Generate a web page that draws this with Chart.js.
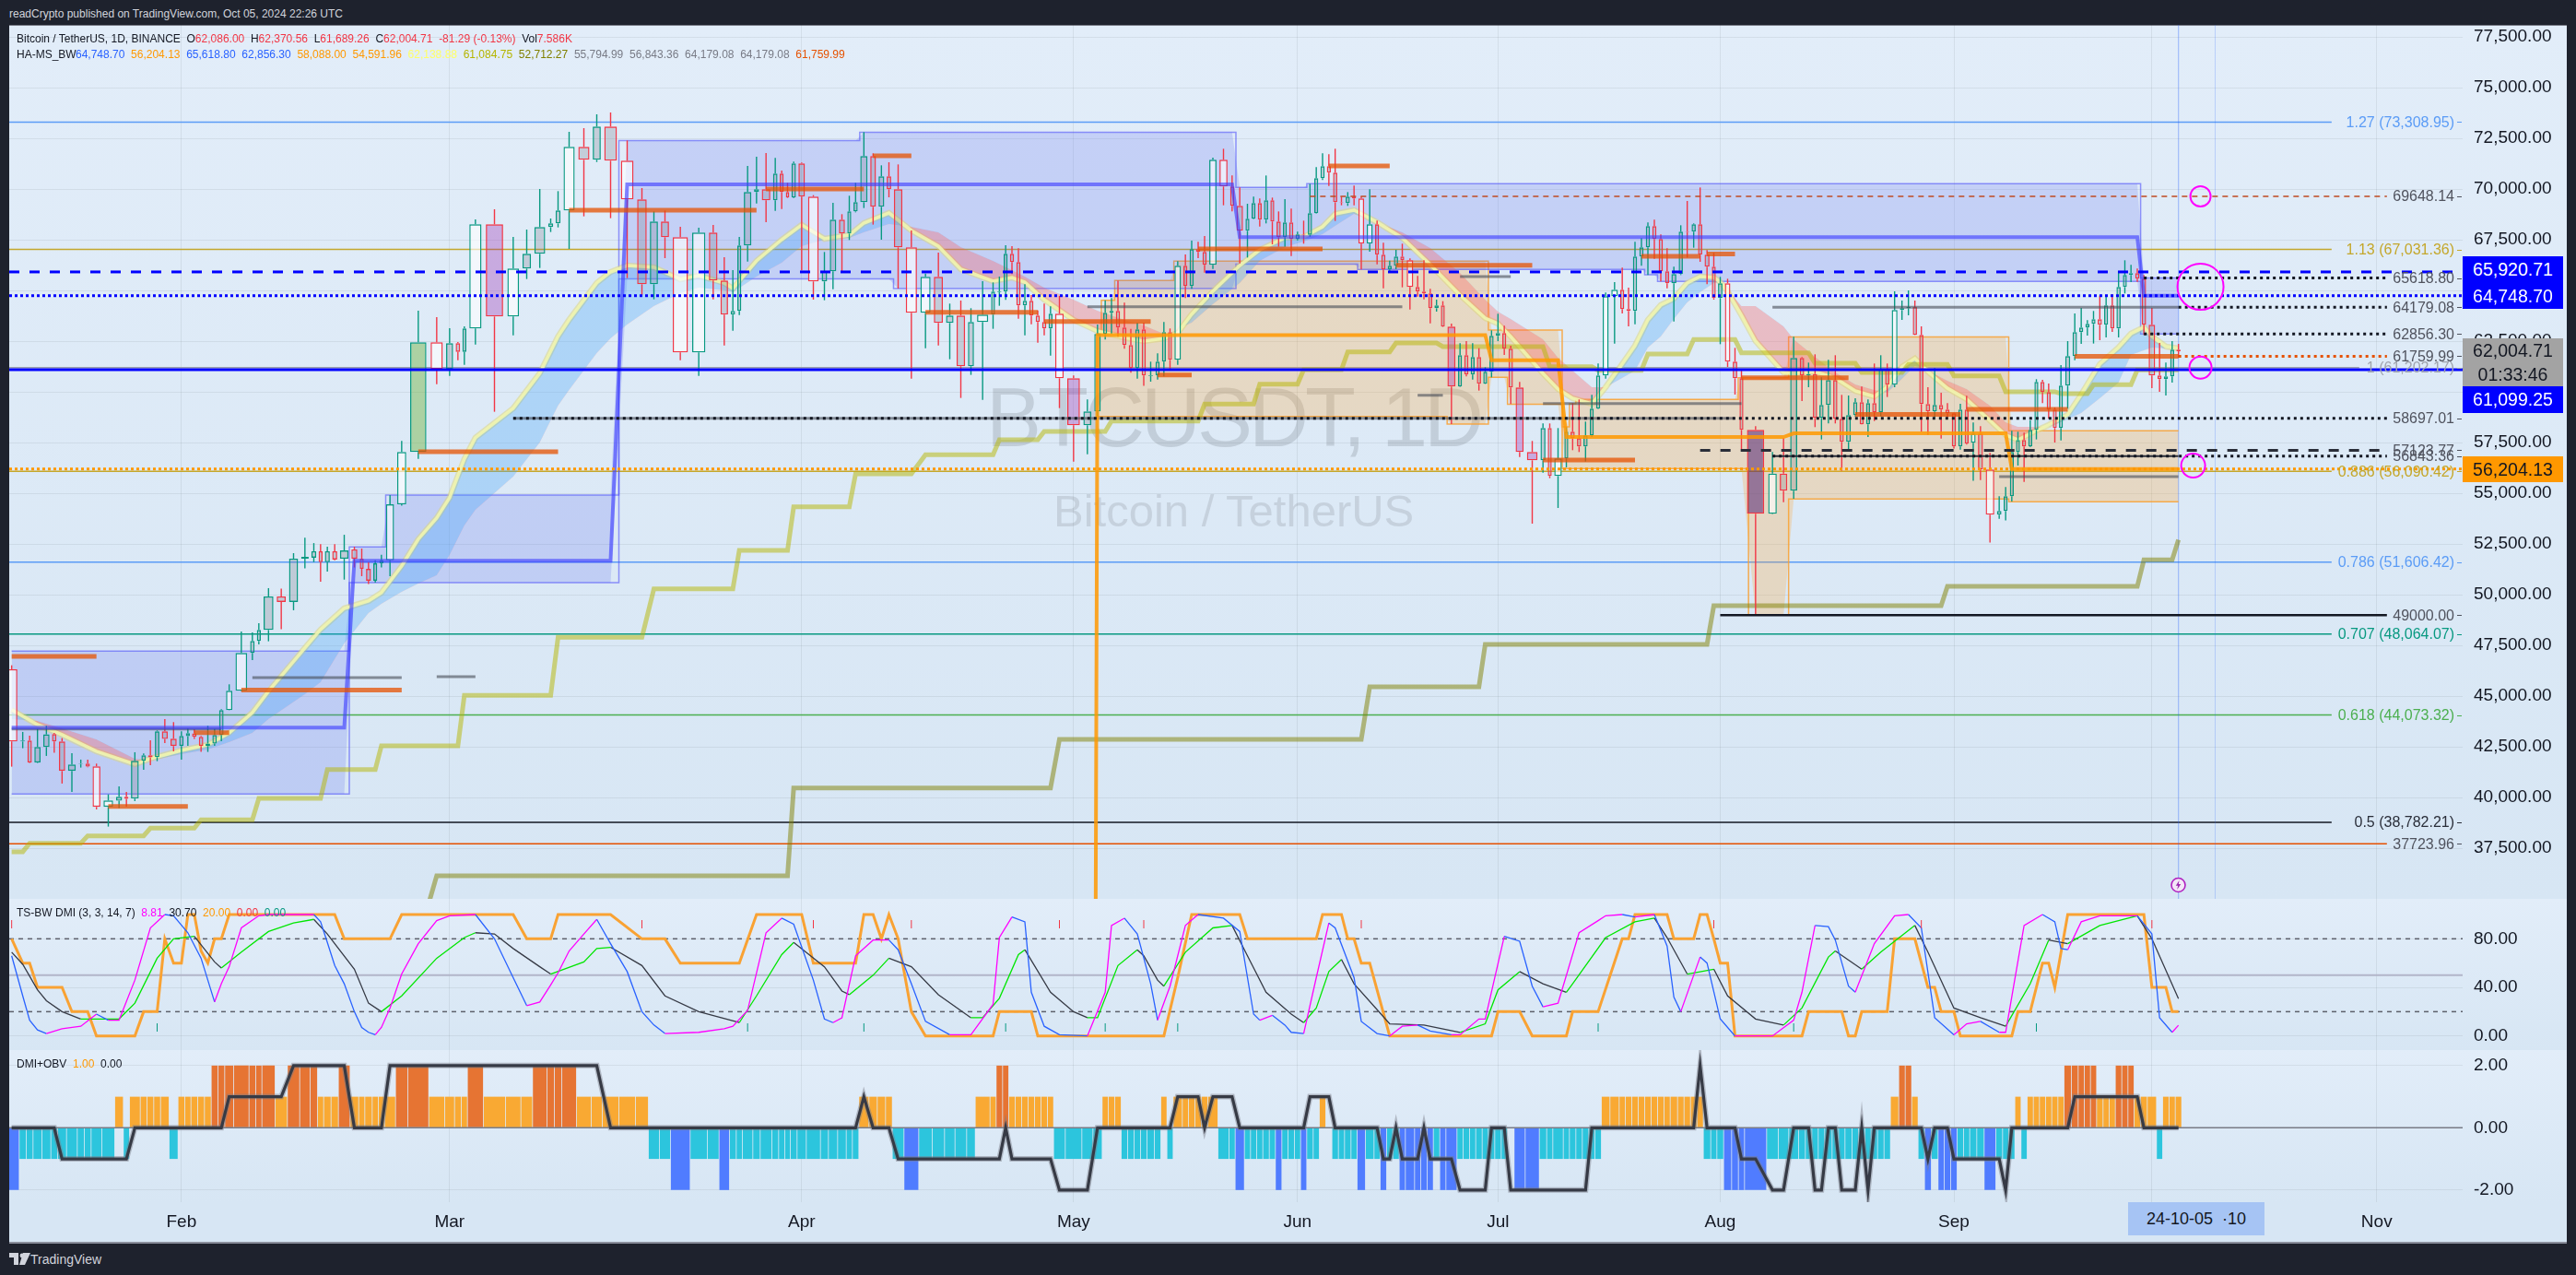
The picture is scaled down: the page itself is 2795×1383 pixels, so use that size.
<!DOCTYPE html>
<html>
<head>
<meta charset="utf-8">
<title>BTCUSDT 1D</title>
<script src="https://cdn.jsdelivr.net/npm/chart.js@4"></script>
<style>
  html, body { margin: 0; padding: 0; background: #1e222d; width: 2795px; height: 1383px; overflow: hidden; font-family: "Liberation Sans", Arial, sans-serif; }
  .pane { position: absolute; left: 10px; width: 2775px; background: linear-gradient(#e2edf9, #d7e6f4); }
  canvas { position: absolute; left: 10px; }
  .txt { position: absolute; white-space: nowrap; }
  .legend { font-size: 12px; color: #131722; }
  .tag { position: absolute; left: 2672px; width: 109px; text-align: center; font-size: 19.5px; line-height: 28px; }
</style>
</head>
<body>
<div class="txt" style="left:10px;top:8px;font-size:12px;color:#d1d4dc">readCrypto published on TradingView.com, Oct 05, 2024 22:26 UTC</div>

<div class="pane" style="top:27px;height:948px;border-top:1px solid #787b86;box-sizing:border-box"></div>
<div class="pane" style="top:975px;height:164px"></div>
<div class="pane" style="top:1139px;height:165px"></div>
<div class="pane" style="top:1304px;height:43px;background:#d7e6f4;border-bottom:2px solid #8a8f9c;box-sizing:content-box"></div>

<div class="txt" style="left:1070px;top:402px;font-size:90px;letter-spacing:-4px;color:rgba(110,115,125,.24)">BTCUSDT, 1D</div>
<div class="txt" style="left:1143px;top:526px;font-size:49px;color:rgba(110,115,125,.2)">Bitcoin / TetherUS</div>

<canvas id="priceChart" width="2775" height="948" style="top:27px"></canvas>
<canvas id="dmiChart" width="2775" height="164" style="top:975px"></canvas>
<canvas id="obvChart" width="2775" height="208" style="top:1139px"></canvas>

<div class="txt legend" style="left:18px;top:35px">Bitcoin / TetherUS, 1D, BINANCE&nbsp;&nbsp;O<span style="color:#f23645">62,086.00</span>&nbsp;&nbsp;H<span style="color:#f23645">62,370.56</span>&nbsp;&nbsp;L<span style="color:#f23645">61,689.26</span>&nbsp;&nbsp;C<span style="color:#f23645">62,004.71</span>&nbsp;&nbsp;<span style="color:#f23645">-81.29 (-0.13%)</span>&nbsp;&nbsp;Vol<span style="color:#f23645">7.586K</span></div>
<div id="maLegend"></div>
<div class="txt legend" style="left:18px;top:983px">TS-BW DMI (3, 3, 14, 7)&nbsp;&nbsp;<span style="color:#ff00ff">8.81</span>&nbsp;&nbsp;30.70&nbsp;&nbsp;<span style="color:#ff9800">20.00</span>&nbsp;&nbsp;<span style="color:#f23645">0.00</span>&nbsp;&nbsp;<span style="color:#089981">0.00</span></div>
<div class="txt legend" style="left:18px;top:1147px">DMI+OBV&nbsp;&nbsp;<span style="color:#ff9800">1.00</span>&nbsp;&nbsp;0.00</div>

<div class="tag" style="top:278px;background:#0000ff;color:#fff;line-height:29px">65,920.71</div>
<div class="tag" style="top:307px;background:#0000ff;color:#fff">64,748.70</div>
<div class="tag" style="top:367px;height:52px;background:#a3a3a3;color:#131722;line-height:26px">62,004.71<br>01:33:46</div>
<div class="tag" style="top:419px;height:29px;background:#0000ff;color:#fff">61,099.25</div>
<div class="tag" style="top:495px;background:#ff9800;color:#131722">56,204.13</div>

<div class="txt" style="left:2309px;top:1304px;width:148px;height:36px;background:#a6c4f4;color:#131722;font-size:18px;line-height:36px;text-align:center">24-10-05&nbsp;&nbsp;·10</div>

<svg class="txt" style="left:2354px;top:950px" width="19" height="20" viewBox="0 0 19 20">
  <circle cx="9.5" cy="10" r="7.5" fill="#f3e6f7" stroke="#b020c0" stroke-width="1.6"/>
  <path d="M10.5 5 L6.8 10.8 H9.2 L8.2 15 L12.2 9 H9.8 Z" fill="#9c27b0"/>
</svg>

<svg class="txt" style="left:10px;top:1359px" width="24" height="13" viewBox="0 0 24 13">
  <path d="M0 0 H10 V13 H5 V5 H0 Z M15 0 H23 L17 13 H11 Z" fill="#d1d4dc"/>
  <circle cx="14" cy="3" r="2.4" fill="#d1d4dc"/>
</svg>
<div class="txt" style="left:33px;top:1358px;font-size:14px;color:#d1d4dc">TradingView</div>

<script>
// one row per trading day, bar 1 = Jan 12 2024, bar 268 = Oct 5 2024
const volumes = [49,
  23,22,29,29,22,29,35,23,22, 35,42,28,20,35,22,22,22,28,29,22,
  20,22,22,22,22,22,29,50,22, 20,43,40,40,34,24,20,24,24,38,
  28,20,24,20,20,36,40,68,52,32, 22,20,52,72,50,38,47,24,24,48,
  48,36,54,54,42,36,36,64,56,38, 34,22,20,34,24,38,22,20,18,22,
  30,46,26,30,28,20,21,33,27,27, 22,38,48,44,40,34,38,28,48,20,
  21,20,21,21,21,21,21,21,20,38, 54,36,30,20,21,21,21,21,21,21,
  24,21,20,20,30,20,21,21,21,33, 36,20,30,20,20,20,21,20,21,20,
  21,20,20,21,20,21,20,21,20,21, 20,27,28,20,21,20,21,20,30,20,
  21,20,21,20,36,20,21,20,21,20, 21,21,20,22,36,46,24,20,34,20,
  21,21,21,20,21,28,30,20,21,21, 21,21,21,21,20,24,21,21,21,21,
  24,20,22,26,22,20,72,38,34,32, 22,21,21,21,24,21,21,23,21,21,
  20,21,21,21,27,21,21,21,21,22, 22,20,21,21,21,20,23,24,38,22,
  20,20,20,20,20,20,20,20,20,20, 24,22,20,20,20,21,20,20,21,20,
  20,21,22,30,20,21,20,21];

const opens = [46329,42769,42814,41724,42496,43133,42769,41315,41663,41678,
  41542,39542,39845,40042,39951,41815,42087,41996,43269,42905,
  42542,43027,43163,42996,42542,42663,43087,44314,45269,47132,
  47723,48268,49920,49647,51783,51830,52150,51610,52150,51780,
  52240,51780,51280,50690,51550,51700,54460,57040,62449,61131,
  62404,61979,63130,68266,63722,66085,66812,68130,68312,68948,
  72084,71448,73084,71402,69494,65312,68403,67630,61949,67857,
  65494,63812,63994,67221,69857,69994,69449,70767,69858,69585,
  71267,69630,65449,65949,68494,67812,68903,69358,71630,69131,
  70630,69994,67131,63904,65676,63404,63768,61268,63449,63813,
  64934,64949,66813,66403,64267,64495,63768,63449,63131,63858,
  60677,58359,59041,62858,63904,63995,63177,62313,61177,63085,
  60798,60828,61495,62949,61585,66221,65221,67039,66903,66267,
  71448,70130,69176,67948,68539,69312,68494,69448,68403,67630,
  68357,67539,67766,67751,68812,70539,71130,70812,69357,69312,
  69630,69539,67312,68266,66766,66040,66221,66676,66494,65176,
  64949,64858,64130,64267,63221,60267,61813,60858,61722,60404,
  60994,62767,62903,62130,60221,57040,56631,58222,55859,56722,
  58040,57722,57313,57858,59177,60813,64721,65040,64085,63994,
  66676,67130,68176,67539,65948,65358,65812,67903,67903,68267,
  66767,66176,64630,65358,61494,60676,58131,53995,55980,55131,
  61676,60813,60889,58722,59358,60586,58677,57540,58858,59495,
  58404,59449,58995,61131,60358,64040,64131,64192,62813,59404,
  59041,59359,59131,58950,57313,59131,57495,57950,56177,53950,
  54132,54859,57041,57632,57313,58132,60495,59995,59131,58223,
  60313,61768,62949,63177,63358,63586,63313,64267,63131,65176,
  65767,65858,65585,63313,60813,60631,60768,62086];

const highs = [46526,43239,43057,43390,43542,43193,42936,42193,41875,41875,
  41678,40163,40557,40285,42239,42178,42830,43314,43875,43724,
  43269,43420,43375,43042,43542,43390,44360,45587,48193,48147,
  48600,50329,50300,52054,52820,52550,52500,52370,52500,52960,
  52370,52280,51610,51700,51970,54920,57586,64010,63691,63146,
  62464,63237,68509,69009,67645,68009,70009,68554,69903,72827,
  73008,73690,73781,72402,70054,68903,68948,68145,68100,68236,
  66645,66009,67645,71145,71600,71782,71539,70918,70312,71358,
  71312,69706,66903,69328,68767,69676,70312,72812,71767,71176,
  71327,71221,67964,65843,66873,64358,64510,64131,65464,65404,
  65691,67237,67191,67085,65313,64782,64025,64358,64222,64737,
  60813,59632,63328,64525,64631,65494,64404,63116,63419,63420,
  61495,61903,63449,63131,66449,66782,67463,67403,67691,71554,
  71993,70675,70085,69282,69630,69539,70675,69585,68903,69509,
  69039,67903,68448,70266,71084,71766,71721,71993,69630,69857,
  70175,69630,69994,68448,67357,66479,67009,67312,66585,65721,
  66494,65085,64555,64479,63373,62403,62509,62403,62161,61221,
  63040,63858,63267,62282,60494,57586,58449,58449,58222,58268,
  59449,59631,58540,59858,61404,64903,65418,66130,65145,67403,
  67585,68357,68494,67767,67085,66176,68221,69418,68312,70084,
  66994,66858,65676,65585,62176,61146,58313,57040,57722,62722,
  61722,61449,61858,60722,61585,61813,59858,59828,59692,60267,
  59631,61404,61813,61404,64964,64510,65010,64510,63237,60237,
  61177,59965,59450,58980,59419,59813,58495,58313,56996,54859,
  55314,58086,58041,57995,58601,60631,60601,60419,59238,61328,
  62510,63873,64146,63540,63995,64752,64692,64813,65964,66494,
  66267,66085,65767,64146,62419,61449,62510,62370.56];

const lows = [41527,42436,41700,41700,42057,42208,40694,40285,41481,41500,
  39421,38573,39482,39557,39830,41375,41602,41799,42693,42284,
  41875,42557,42890,42254,42254,42557,42784,44300,45250,46784,
  47556,47708,48300,49240,51300,51610,50650,51150,51700,50750,
  51350,50920,50530,50600,51350,50920,54400,56707,60388,60798,
  61570,61343,62343,59025,62797,65570,66115,67888,68115,67054,
  68660,71342,68570,65615,64782,64570,66600,61570,60798,64570,
  62297,63025,63797,66433,69297,68373,68934,69024,69560,69560,
  65994,64555,64525,65070,65949,67494,68858,69070,68252,67509,
  69600,65100,60662,62161,62298,61616,59707,60844,59617,63116,
  64252,64540,65813,63616,62798,63343,62434,62798,61798,59207,
  56571,56935,58800,62586,62858,62722,62131,60950,60662,60300,
  60510,60616,60767,61146,61343,64631,65085,66600,65888,66070,
  69206,68903,66342,66630,68520,68160,68312,67282,67160,67160,
  66706,67479,67312,67660,68790,70448,70160,68433,69206,69176,
  69206,66040,66918,66297,65115,65873,66055,65161,64070,64706,
  64570,63388,63964,63200,58419,60250,60767,60616,60070,60390,
  60722,62510,61828,59404,56798,53510,56025,55753,54283,56283,
  57131,57040,56571,57783,59160,60661,62388,63873,63237,63343,
  66221,65767,66570,65448,65115,63479,65767,66630,67115,66418,
  65312,64555,62358,61237,59873,57176,49011,53970,54571,54738,
  59555,60237,58268,57661,58449,58449,56116,57131,58798,58390,
  57783,58570,58798,59752,60237,63555,63783,62800,58041,57889,
  58753,57707,58753,57208,57162,57404,55617,55662,52572,53753,
  53663,54602,56374,55571,57285,57662,59450,58692,57510,57617,
  59177,61571,62374,62783,62389,62555,62692,62965,62692,64858,
  65419,65434,62813,60192,60010,59828,60465,61689.26];

const closes = [42769,42814,41724,42496,43118,42769,41315,41633,41693,41527,
  39542,39860,40042,39936,41815,42087,41981,43269,42890,42542,
  43042,43178,42996,42542,42663,43087,44314,45269,47132,47723,
  48268,49920,49647,51783,51870,52150,51610,52150,51740,52190,
  51780,51280,50690,51550,51700,54460,57040,62449,61131,62404,
  61979,63130,68266,63722,66085,66812,68130,68312,68948,72084,
  71448,73084,71402,69494,65312,68403,67630,61949,67857,65494,
  63812,63994,67221,69857,69994,69449,70767,69858,69585,71267,
  69630,65449,65949,68494,67812,68903,69358,71630,69131,70630,
  69994,67131,63904,65676,63404,63768,61268,63449,63813,64949,
  64964,66813,66403,64267,64495,63768,63449,63131,63858,60677,
  58359,59041,62858,63904,63995,63177,62313,61177,63086,60813,
  60828,61495,62949,61585,66221,65221,67039,66903,66267,71448,
  70130,69176,67948,68539,69312,68494,69448,68403,67630,68357,
  67539,67766,67751,68812,70539,71130,70812,69357,69342,69630,
  69539,67312,68266,66766,66040,66221,66676,66494,65176,64949,
  64858,64130,64267,63221,60267,61813,60858,61722,60404,60994,
  62767,62903,62130,60221,57040,56631,58222,55859,56722,58040,
  57722,57313,57858,59177,60813,64721,65040,64085,63994,66676,
  67130,68176,67539,65948,65358,65812,67903,67888,68267,66767,
  66176,64630,65358,61494,60676,58131,53995,55980,55131,61676,
  60813,60889,58722,59358,60586,58677,57540,58858,59495,58404,
  59449,58995,61131,60358,64040,64131,64192,62813,59404,59041,
  59359,59131,58950,57313,59131,57450,57950,56177,53950,54132,
  54859,57041,57632,57313,58132,60495,59995,59131,58223,60313,
  61768,62949,63177,63358,63586,63313,64267,63131,65176,65767,
  65858,65585,63313,60813,60631,60768,62086,62004.71];

// bars the script highlights by volume class
const lightBars = [1,11,12,28,29,46,47,49,53,55,60,64,68,69,82,93,94,99,110,125,130,131,152,153,159,179,186,187,204,208,225,237,239];
const purpleBars = [54,111,165,175,176];
const darkBars = [207];
const oliveBars = [48];

const priceTicks = [37500,40000,42500,45000,47500,50000,52500,55000,57500,60000,62500,65000,67500,70000,72500,75000,77500];
const monthNames = ["Feb","Mar","Apr","May","Jun","Jul","Aug","Sep","Oct"];
const monthBars = [21,50,81,111,142,172,203,234,264];

// fib levels
const fibPrices = [73308.95,67031.36,61202.17,56090.42,51606.42,48064.07,44073.32,38782.21,37723.96];

// right hand level labels
const labelTexts = ["1.27 (73,308.95)","69648.14","1.13 (67,031.36)","65618.80","64179.08","62856.30","61759.99","1 (61,202.17)","58697.01","57123.77","56843.36","0.886 (56,090.42)","0.786 (51,606.42)","49000.00","0.707 (48,064.07)","0.618 (44,073.32)","0.5 (38,782.21)","37723.96"];
const labelPrices = [73308.95,69648.14,67031.36,65618.8,64179.08,62856.3,61759.99,61202.17,58697.01,57123.77,56843.36,56090.42,51606.42,49000,48064.07,44073.32,38782.21,37723.96];

// blue range boxes, level starts at the given bar
const blueTopBars = [1,41,46,64,88,133,144,263];
const blueTop = [47225,52360,54920,72400,72810,70090,70270,65618.8];
const blueMidBars = [1,41,64,133,263];
const blueMid = [43450,51680,70240,67630,64748.7];
const blueBotBars = [1,41,64,92,133,152,192,194,263];
const blueBot = [40180,50600,65580,65100,66310,66040,65780,65450,62856.3];

// orange range boxes
const tanTopBars = [113,114,116,125,171,180,181,182,206,210,242];
const tanTop = [62890,64520,65500,66450,63050,58280,59420,59630,60700,62710,58088];
const tanMidBars = [113,171,180,210,242];
const tanMid = [62810,61570,57780,57960,56204.13];
const tanBotBars = [113,165,171,174,180,207,210,242];
const tanBot = [58795,58420,60720,59400,56220,49000,54720,54591.96];

// smoothed HA ribbon
const ribbonBars = [1,4,7,11,15,17,21,25,28,30,32,35,37,40,43,45,47,48,49,50,52,53,55,57,59,60,62,63,64,66,68,69,71,72,75,78,81,83,86,88,91,93,95,97,100,103,105,108,111,113,117,120,123,124,125,127,130,133,136,140,143,146,148,151,154,158,162,166,170,172,174,177,179,181,184,186,188,190,192,194,196,198,200,202,203,204,206,207,209,210,213,216,219,222,224,226,228,230,233,236,239,241,243,246,248,251,253,256,259,261,263,264,266,268];
const ribbonFast = [44329,43602,43102,42284,41647,41920,42330,42602,43193,44193,45238,47375,48283,49329,49693,50102,51420,52738,53783,54783,56692,57737,59191,60919,62736,63555,65373,65918,66236,66145,65555,65736,65373,65100,66464,67509,68236,67555,67736,68327,68827,67964,67191,66055,65464,65645,65419,64555,63555,63009,62691,62510,62646,62782,62919,63828,64964,66236,67009,67600,67645,68145,68782,68963,68373,67600,66282,64782,63646,63373,62736,60919,60146,59692,59419,60237,61373,62282,63555,64282,64600,65373,65691,65645,65419,64964,63782,62510,60964,60919,61009,60692,60056,59782,60237,61237,61646,61009,60191,59646,58601,57874,57646,58100,58374,58873,59873,61373,62191,62873,63191,62736,62237,62146];
const ribbonSlow = [43875,43784,43420,42874,41920,41830,42148,42375,42739,43193,43875,45102,45693,47602,49102,49556,50147,50556,50965,51965,53420,54192,55829,57510,59328,60101,61918,62646,63328,64237,64873,65146,65009,64918,65691,66373,67191,67509,67600,67873,68281,68145,67873,67145,66464,66009,65691,65146,64555,64009,63555,63282,62873,62827,63100,63419,64328,65373,66464,67145,67418,67782,68191,68782,68373,67873,67100,65873,64555,63964,63600,62600,61691,61055,60237,60237,60692,61055,62191,62736,63600,64418,64918,65373,65419,65055,64237,64237,63237,62600,61737,60964,60373,60101,59964,60646,61282,61055,60555,60146,59328,58510,58283,58283,58283,58646,58964,59692,60464,61828,62055,62191,62146,62055];

// slow weekly trend steps
const trendBars = [1,3,10,17,24,31,38,45,52,59,66,73,80,87,94,101,108,115,129,136,143,150,157,164,178,185,192,199,206,213,220,227,234,241,250,255,262];
const trend = [37330,37753,38116,38497,38907,39966,41389,42557,45043,47906,50298,52192,54342,55965,56905,57646,58055,58569,59405,60387,61101,61977,62419,62237,61250,61068,61873,62587,61932,61419,60964,61360,60796,60010,59919,60359,61084.75];
const trendLowBars = [48,49,80,110,153,170,202,233,263,268];
const trendLow = [33000,36149,40479,42875,45466,47556,49465,50419,51724,52712.27];

// pivot strokes
const pivotFrom = [1,12,23,29,48,60,76,89,94,108,122,128,147,157,177,191,201,206,219,236,252];
const pivotTo = [11,22,28,47,59,75,88,93,107,121,127,146,156,176,190,200,205,218,235,251,268];
const pivotLevel = [46966,39570,43200,45300,57060,68960,70010,71650,63930,63480,60840,67050,71150,66250,56650,66690,66800,60700,58890,59140,61759.99];

// short gray zones
const zoneFrom = [1,30,49,55,112,160,166,177,208,240];
const zoneTo = [27,47,53,205,158,164,174,206,268,268];
const zoneLevel = [43388,45919,45965,58697.01,64205,59842,65690,59432,64179.08,55829];

// signal rings, days after the last bar
const ringDays = [3,3,3,2];
const ringPrices = [69648.14,65190,61202.17,56370];

// TS-BW DMI pane
const kBars = [1,2,3,4,5,7,9,11,12,13,15,17,19,20,22,24,26,27,28,29,31,32,36,37,38,39,40,41,42,43,44,45,46,47,48,49,50,53,54,55,56,57,58,59,60,61,62,63,64,65,66,67,69,71,72,74,76,78,80,82,83,84,85,87,89,91,92,93,94,96,98,100,101,103,105,106,108,110,112,114,115,117,119,121,122,124,126,128,131,133,135,136,138,140,141,143,145,147,148,151,152,154,156,158,160,162,165,166,169,170,173,175,176,177,179,182,185,186,188,190,193,195,196,197,200,201,203,205,208,210,211,213,215,216,218,219,222,225,227,229,231,234,236,238,240,241,244,247,249,250,251,253,256,262,264,265,267,268];
const kValues = [66,33,13,5,2,6,8,18,13,13,46,89,100,99,85,64,28,43,57,89,99,100,100,94,77,58,43,20,7,3,1,7,23,51,76,95,99,100,80,48,25,28,42,52,70,84,96,76,53,20,9,2,3,6,8,21,85,97,92,46,14,11,15,66,79,79,71,43,12,1,1,26,81,98,94,36,8,1,0,36,91,97,84,43,13,41,91,100,97,86,18,13,17,9,3,2,48,93,89,48,12,2,0,8,9,4,1,1,14,14,82,78,41,24,27,85,95,99,100,98,100,74,32,20,65,60,14,0,0,13,36,91,90,79,41,36,76,99,100,89,15,1,10,12,3,3,91,100,94,72,71,94,99,99,84,15,3,8.81];
const dBars = [1,2,4,5,7,9,13,15,18,20,23,26,27,29,32,34,36,38,41,43,45,47,49,52,53,54,55,57,58,61,62,63,65,67,69,73,75,78,80,83,85,86,89,91,93,95,98,99,101,104,105,109,111,112,113,116,119,120,122,123,126,130,132,134,137,141,143,145,147,149,151,156,161,166,170,172,175,177,180,181,186,190,193,195,198,202,204,207,209,211,215,216,220,223,228,230,234,238,241,245,248,251,256,262,264,268];
const dValues = [69,59,38,29,20,14,14,27,64,80,82,61,56,69,86,93,96,84,55,27,20,33,64,81,85,84,72,57,51,61,72,73,58,33,20,11,33,67,77,57,37,34,50,64,57,34,15,15,31,67,71,36,20,15,15,58,71,66,46,41,69,89,91,66,36,18,11,23,53,63,43,10,9,3,10,38,53,43,36,43,81,94,97,81,51,55,33,14,9,23,65,70,55,69,91,69,23,15,8,43,79,76,91,99,80,30.7];
const dmiBars = [1,2,3,4,7,8,10,11,15,16,18,19,20,21,22,23,24,25,26,27,28,39,40,46,47,55,56,58,59,63,65,67,68,73,75,81,82,87,88,89,90,91,92,93,94,100,101,106,107,123,125,127,133,134,145,146,149,150,151,152,153,156,171,172,175,176,180,181,185,188,189,190,195,196,199,200,201,202,203,204,205,211,212,217,218,219,220,224,225,228,230,231,232,234,235,242,243,245,247,248,249,251,263,264,266,267,268];
const dmiValues = [80,60,60,40,40,20,20,0,0,20,20,80,60,60,100,100,70,60,80,80,100,100,80,80,100,100,80,80,100,100,80,80,60,60,100,100,60,60,100,100,80,100,80,20,0,0,20,20,0,0,48,100,100,80,80,100,100,80,80,60,60,0,0,20,20,0,0,20,20,80,80,100,100,80,80,100,100,80,60,60,0,0,20,20,0,0,20,20,80,80,40,40,20,20,0,0,20,20,60,60,40,100,100,40,40,20,20];
const sellMarks = [1,65,82,93,110,120,152,202,229,264];
const buyMarks = [18,74,88,102,114,125,185,210,246];
const dmiTicks = [0,40,80];

// DMI+OBV pane, run ends and values
const obvEnds = [1,12,13,14,19,20,25,32,33,36,39,40,46,48,52,53,56,60,65,67,68,70,71,87,91,92,93,98,100,102,109,113,116,122,123,124,130,132,133,138,139,142,143,145,146,147,151,152,154,155,157,162,163,165,173,174,176,185,200,203,207,224,225,227,228,229,230,231,234,238,239,242,243,244,250,255,258,261,264,265,268];
const obvValues = [-2,-1,1,-1,1,-1,1,2,1,2,1,2,1,2,1,2,1,2,1,-1,-2,-1,-2,-1,1,-1,-2,-1,1,2,1,-1,1,-1,1,-1,1,-1,-2,-1,-2,-1,-2,-1,1,0,-1,-2,-1,-2,-1,-2,-1,-2,-1,0,-2,-1,1,-1,-2,-1,1,2,1,-1,-2,-1,-2,-1,-2,-1,1,-1,1,2,1,2,1,-1,1];
const obvLineEnds = [6,14,27,33,40,45,62,87,88,91,101,102,109,112,124,128,129,132,143,147,154,156,157,160,161,165,170,173,183,199,200,205,207,209,212,214,216,219,220,221,229,230,233,240,241,251,262,268];
const obvLineValues = [0,-1,0,1,2,0,2,0,1,0,-1,0,-1,-2,0,1,0,1,0,1,0,-1,0,-1,0,-1,-2,0,-2,0,2,0,-1,-2,0,-2,0,-2,0,-2,0,-1,0,-1,-2,0,1,0];
const obvTicks = [-2,0,2];

const maLegendTexts = ["64,748.70","56,204.13","65,618.80","62,856.30","58,088.00","54,591.96","62,138.88","61,084.75","52,712.27","55,794.99","56,843.36","64,179.08","64,179.08","61,759.99"];

// ---------- x axis is cumulative volume: wide bars take more room ----------
const FONT = '"Liberation Sans", Arial, sans-serif';
const centers = [];
let cum = 0;
volumes.forEach(v => { centers.push(cum + v / 2); cum += v; });
const xMin = 16.5, xMax = 8002.5;
const lastX = centers[centers.length - 1];
const volPerFutureDay = 23.9;
const barX = b => centers[b - 1];
const fibStop = 7576, labelStop = 7756;

const maColors = ["#2962ff","#ff9800","#2962ff","#2962ff","#ff9800","#ff9800","#ffff66","#b5b500","#808000","#787b86","#787b86","#787b86","#787b86","#e65100"];
const legendBox = document.getElementById("maLegend");
let legendHtml = '<div class="txt legend" style="left:18px;top:52px">HA-MS_BW</div>';
maLegendTexts.forEach((t, i) => {
  legendHtml += `<div class="txt legend" style="left:${82 + i * 60.1}px;top:52px;color:${maColors[i]}">${t}</div>`;
});
legendBox.innerHTML = legendHtml;

// bars whose width comes from volume instead of the category ruler
class VolumeBar extends Chart.BarController {
  _calculateBarIndexPixels(index) {
    const scale = this._cachedMeta.iScale;
    const c = scale.getPixelForValue(this.getDataset().data[index].x);
    const pxPerVol = scale.width / (scale.max - scale.min);
    const size = this.getDataset().sizeOf(index, pxPerVol);
    return { base: c - size / 2, head: c + size / 2, center: c, size };
  }
}
VolumeBar.id = "volumeBar";
Chart.register(VolumeBar);

function stepSeries(startBars, values) {
  const out = [];
  let k = 0;
  for (let i = startBars[0]; i <= centers.length; i++) {
    while (k + 1 < startBars.length && i >= startBars[k + 1]) k++;
    out.push({ x: barX(i), y: values[k] });
  }
  return out;
}
function runsByEnd(ends, values) {
  const out = [];
  let k = 0;
  for (let i = 1; i <= centers.length; i++) {
    while (i > ends[k]) k++;
    out.push(values[k]);
  }
  return out;
}
const knots = (bars, values) => bars.map((b, i) => ({ x: barX(b), y: values[i] }));
const lineDs = (data, opts) => ({ type: "line", data, pointRadius: 0, borderWidth: 1.5, fill: false, tension: 0, ...opts });
const hLine = (y, from, to, opts) => lineDs([{ x: from, y }, { x: to, y }], opts);
const money = v => v.toLocaleString("en-US", { minimumFractionDigits: 2, maximumFractionDigits: 2 });

const GREEN = "#089981", RED = "#f23645";
const isUp = i => closes[i] >= opens[i];

function bodyFill(ctx) {
  const b = ctx.dataIndex + 1;
  if (darkBars.includes(b)) return "rgba(70,20,110,.5)";
  if (purpleBars.includes(b)) return "rgba(156,39,176,.33)";
  if (oliveBars.includes(b)) return "rgba(110,180,60,.45)";
  if (lightBars.includes(b)) return "rgba(255,255,255,.62)";
  return "rgba(120,123,134,.27)";
}

// ---------- price pane ----------
const ds = [];
const fibColors = ["#5b9cf6","#c4a72b","#9aa0ab","#c4a72b","#5b9cf6","#089981","#4caf50","#131722","#e65100"];
const fibEnds = [fibStop, fibStop, 7666, fibStop, fibStop, fibStop, fibStop, fibStop, labelStop];
fibPrices.forEach((p, i) => ds.push(hLine(p, xMin, fibEnds[i], { borderColor: fibColors[i], order: 100 })));

function band(topB, top, botB, bot, fillColor, strokeColor, order) {
  ds.push(lineDs(stepSeries(botB, bot), { borderWidth: 0, borderColor: "transparent", order }));
  ds.push(lineDs(stepSeries(topB, top), { borderWidth: 0, borderColor: "transparent", fill: { target: "-1", above: fillColor, below: fillColor }, order }));
  ds.push(lineDs(stepSeries(topB, top), { borderColor: strokeColor, stepped: "middle", order }));
  ds.push(lineDs(stepSeries(botB, bot), { borderColor: strokeColor, stepped: "middle", order }));
}
band(tanTopBars, tanTop, tanBotBars, tanBot, "rgba(254,164,45,.25)", "rgba(248,160,50,.85)", 92);
band(blueTopBars, blueTop, blueBotBars, blueBot, "rgba(83,99,238,.2)", "rgba(70,70,250,.55)", 90);

ds.push(lineDs(knots(ribbonBars, ribbonFast), { borderColor: "rgba(222,214,120,.5)", borderWidth: 6.5, order: 79 }));
ds.push(lineDs(knots(ribbonBars, ribbonSlow), { borderWidth: 0, borderColor: "transparent", order: 80 }));
ds.push(lineDs(knots(ribbonBars, ribbonFast), {
  borderColor: "rgba(241,245,175,.9)", borderWidth: 3.5,
  fill: { target: "-1", above: "rgba(63,163,250,.3)", below: "rgba(255,83,83,.3)" }, order: 78
}));

ds.push(lineDs(stepSeries(trendBars, trend), { borderColor: "rgba(181,181,0,.5)", borderWidth: 5, order: 70 }));
ds.push(lineDs(knots(trendLowBars, trendLow).flatMap((p, i, a) => i === 0 ? [p] : [{ x: barX(trendLowBars[i] - 1), y: a[i - 1].y }, p]), { borderColor: "rgba(128,128,0,.5)", borderWidth: 5, order: 70 }));

const wickSize = () => 1.4;
ds.push({
  type: "volumeBar", grouped: false, order: 61, sizeOf: wickSize, borderWidth: 0,
  data: centers.map((x, i) => ({ x, y: [Math.max(opens[i], closes[i]), highs[i]] })),
  backgroundColor: ctx => isUp(ctx.dataIndex) ? GREEN : RED
});
ds.push({
  type: "volumeBar", grouped: false, order: 61, sizeOf: wickSize, borderWidth: 0,
  data: centers.map((x, i) => ({ x, y: [lows[i], Math.min(opens[i], closes[i])] })),
  backgroundColor: ctx => isUp(ctx.dataIndex) ? GREEN : RED
});
ds.push({
  type: "volumeBar", grouped: false, order: 60, borderWidth: 1.4, borderSkipped: false,
  sizeOf: (i, k) => (volumes[i] * k - 1.5) / 1.2,
  data: centers.map((x, i) => ({ x, y: [opens[i], closes[i]] })),
  backgroundColor: bodyFill,
  borderColor: ctx => isUp(ctx.dataIndex) ? GREEN : RED
});

ds.push(lineDs(stepSeries(blueMidBars, blueMid), { borderColor: "rgba(60,60,255,.62)", borderWidth: 4, order: 50 }));
ds.push(lineDs([{ x: barX(113) - 7, y: 30000 }].concat(stepSeries(tanMidBars, tanMid)), { borderColor: "rgba(255,152,0,.85)", borderWidth: 4, order: 50 }));

const zonePts = [];
zoneFrom.forEach((f, i) => zonePts.push({ x: barX(f), y: zoneLevel[i] }, { x: barX(zoneTo[i]), y: zoneLevel[i] }, { x: barX(zoneTo[i]), y: null }));
ds.push(lineDs(zonePts, { borderColor: "rgba(70,75,85,.6)", borderWidth: 3, spanGaps: false, order: 52 }));
ds.push(hLine(56843.36, barX(208), barX(268), { borderColor: "#2a2e39", borderWidth: 2, order: 51 }));

const pivotPts = [];
pivotFrom.forEach((f, i) => pivotPts.push({ x: barX(f), y: pivotLevel[i] }, { x: barX(pivotTo[i]), y: pivotLevel[i] }, { x: barX(pivotTo[i]), y: null }));
ds.push(lineDs(pivotPts, { borderColor: "rgba(230,81,0,.75)", borderWidth: 5, spanGaps: false, order: 40 }));

// long levels to the labels
const dotted = { borderColor: "#131722", borderWidth: 3, borderDash: [3, 4], order: 45 };
ds.push(hLine(65618.8, barX(263), labelStop, dotted));
ds.push(hLine(64179.08, lastX, labelStop, dotted));
ds.push(hLine(62856.3, barX(263), labelStop, dotted));
ds.push(hLine(58697.01, barX(55), labelStop, dotted));
ds.push(hLine(56843.36, barX(208), labelStop, dotted));
ds.push(hLine(61759.99, lastX, labelStop, { ...dotted, borderColor: "#e65100" }));
ds.push(hLine(57123.77, barX(200), labelStop, { borderColor: "#2a2e39", borderWidth: 3, borderDash: [11, 11], order: 45 }));
ds.push(hLine(69648.14, barX(144), labelStop, { borderColor: "#bf4a20", borderWidth: 1.5, borderDash: [6, 5], order: 45 }));
ds.push(hLine(49000, barX(203), labelStop, { borderColor: "#131722", borderWidth: 2.5, order: 45 }));

// current MA levels across to the axis
ds.push(hLine(65920.71, xMin, xMax, { borderColor: "#0000ff", borderWidth: 3, borderDash: [11, 11], order: 44 }));
ds.push(hLine(64748.7, xMin, xMax, { borderColor: "#0000ff", borderWidth: 3, borderDash: [3, 3], order: 44 }));
ds.push(hLine(61099.25, xMin, xMax, { borderColor: "#0000ff", borderWidth: 3, order: 44 }));
ds.push(hLine(56204.13, xMin, xMax, { borderColor: "#ff9800", borderWidth: 3, borderDash: [3, 3], order: 44 }));

ds.push(lineDs([{ x: lastX, y: 30000 }, { x: lastX, y: 80000 }], { borderColor: "rgba(41,98,255,.35)", borderWidth: 1.2, order: 95 }));
ds.push(lineDs([{ x: lastX + 5 * volPerFutureDay, y: 30000 }, { x: lastX + 5 * volPerFutureDay, y: 80000 }], { borderColor: "rgba(41,98,255,.22)", borderWidth: 1, order: 95 }));

ds.push({
  type: "line", showLine: false, order: 30,
  data: ringDays.map((d, i) => ({ x: lastX + d * volPerFutureDay, y: ringPrices[i] })),
  pointStyle: "circle", pointRadius: [11, 25, 12, 13],
  pointBackgroundColor: "transparent", pointBorderColor: "#ff00ff", pointBorderWidth: 2
});

const labelColors = ["#5b9cf6","#50535e","#c4a72b","#50535e","#50535e","#50535e","#50535e","#a0a4ad","#50535e","#50535e","#50535e","#c4a72b","#5b9cf6","#50535e","#089981","#4caf50","#2a2e39","#50535e"];
const levelLabelPlugin = {
  id: "levelLabels",
  afterDatasetsDraw(chart) {
    const { ctx, scales } = chart;
    ctx.save();
    ctx.font = "16px " + FONT;
    ctx.textAlign = "right";
    ctx.textBaseline = "middle";
    labelTexts.forEach((t, i) => {
      const y = scales.y.getPixelForValue(labelPrices[i]);
      ctx.fillStyle = labelColors[i];
      ctx.fillText(t, 2653, y + 1);
      ctx.fillRect(2656, Math.round(y), 5, 1);
    });
    ctx.restore();
  }
};

const monthX = monthBars.map(barX);
const novX = lastX + 27 * volPerFutureDay;

function xAxis(showLabels) {
  return {
    type: "linear", min: xMin, max: xMax, offset: false,
    grid: { offset: false, color: "rgba(42,46,57,.08)", drawTicks: false },
    border: { display: false },
    afterBuildTicks: s => { s.ticks = monthX.concat([novX]).map(value => ({ value })); },
    afterFit: s => { s.height = showLabels ? 43 : 0; s.paddingLeft = 0; s.paddingRight = 0; },
    ticks: {
      display: showLabels, autoSkip: false, maxRotation: 0, minRotation: 0, padding: 10, color: "#131722",
      font: { family: FONT, size: 19 },
      callback: v => {
        const k = monthX.indexOf(v);
        if (k >= 0) return monthNames[k] === "Oct" ? "" : monthNames[k];
        return "Nov";
      }
    }
  };
}
function yAxis(min, max, ticks, fmt, gridColor) {
  return {
    type: "linear", position: "right", min, max,
    grid: { color: gridColor || "rgba(42,46,57,.08)", drawTicks: false },
    border: { display: false },
    afterBuildTicks: s => { s.ticks = ticks.map(value => ({ value })); },
    afterFit: s => { s.width = 113; s.paddingTop = 0; s.paddingBottom = 0; },
    ticks: { crossAlign: "near", padding: 12, color: "#131722", font: { family: FONT, size: 19 }, callback: fmt }
  };
}
const baseOptions = (scales) => ({
  responsive: false, animation: false, events: [], devicePixelRatio: 1,
  layout: { padding: 0, autoPadding: false },
  plugins: { legend: { display: false }, tooltip: { enabled: false } },
  scales
});

new Chart("priceChart", {
  type: "line",
  data: { datasets: ds },
  options: baseOptions({ x: xAxis(false), y: yAxis(35009, 78100, priceTicks, money) }),
  plugins: [levelLabelPlugin]
});

// ---------- DMI pane ----------
const dmiDs = [
  hLine(80, xMin, xMax, { borderColor: "#5d606b", borderWidth: 1.5, borderDash: [5, 5], order: 9 }),
  hLine(20, xMin, xMax, { borderColor: "#5d606b", borderWidth: 1.5, borderDash: [5, 5], order: 9 }),
  hLine(50, xMin, xMax, { borderColor: "#b2b5c9", borderWidth: 2, order: 9 }),
  lineDs(knots(dmiBars, dmiValues), { borderColor: "#f9a233", borderWidth: 3, order: 5 }),
  lineDs(knots(dBars, dValues), { borderWidth: 1.3, borderColor: "#363a45", order: 4, segment: { borderColor: c => c.p1.parsed.y >= c.p0.parsed.y ? "#00e600" : "#363a45" } }),
  lineDs(knots(kBars, kValues), { borderWidth: 1.3, borderColor: "#2962ff", order: 3, segment: { borderColor: c => c.p1.parsed.y >= c.p0.parsed.y ? "#ff00ff" : "#2962ff" } }),
  { type: "line", showLine: false, order: 2, data: sellMarks.map(b => ({ x: barX(b), y: 92 })), pointStyle: "line", rotation: 90, pointRadius: 4.5, pointBorderColor: RED, pointBorderWidth: 1 },
  { type: "line", showLine: false, order: 2, data: buyMarks.map(b => ({ x: barX(b), y: 7 })), pointStyle: "line", rotation: 90, pointRadius: 4.5, pointBorderColor: GREEN, pointBorderWidth: 1 }
];
new Chart("dmiChart", {
  type: "line",
  data: { datasets: dmiDs },
  options: baseOptions({ x: xAxis(false), y: yAxis(-11.6, 112.9, dmiTicks, v => v.toFixed(2)) })
});

// ---------- DMI+OBV pane ----------
const obvPerBar = runsByEnd(obvEnds, obvValues);
const obvLine = runsByEnd(obvLineEnds, obvLineValues);
const obvColor = { "2": "#e67433", "1": "#f9a933", "-1": "#2cc5dd", "-2": "#507cff" };
const obvDs = [
  {
    type: "volumeBar", grouped: false, order: 5, borderWidth: 0,
    sizeOf: (i, k) => volumes[i] * k - 0.8,
    data: centers.map((x, i) => ({ x, y: [0, obvPerBar[i]] })),
    backgroundColor: ctx => obvColor[obvPerBar[ctx.dataIndex]] || "transparent"
  },
  hLine(0, xMin, xMax, { borderColor: "#787b86", borderWidth: 1.5, order: 4 }),
  lineDs(centers.map((x, i) => ({ x, y: obvLine[i] })), { borderColor: "rgba(120,123,134,.45)", borderWidth: 6, order: 3 }),
  lineDs(centers.map((x, i) => ({ x, y: obvLine[i] })), { borderColor: "#363a45", borderWidth: 3.2, order: 2 })
];
new Chart("obvChart", {
  type: "line",
  data: { datasets: obvDs },
  options: baseOptions({ x: xAxis(true), y: yAxis(-2.39, 2.5, obvTicks, v => v.toFixed(2)) })
});
</script>
</body>
</html>
